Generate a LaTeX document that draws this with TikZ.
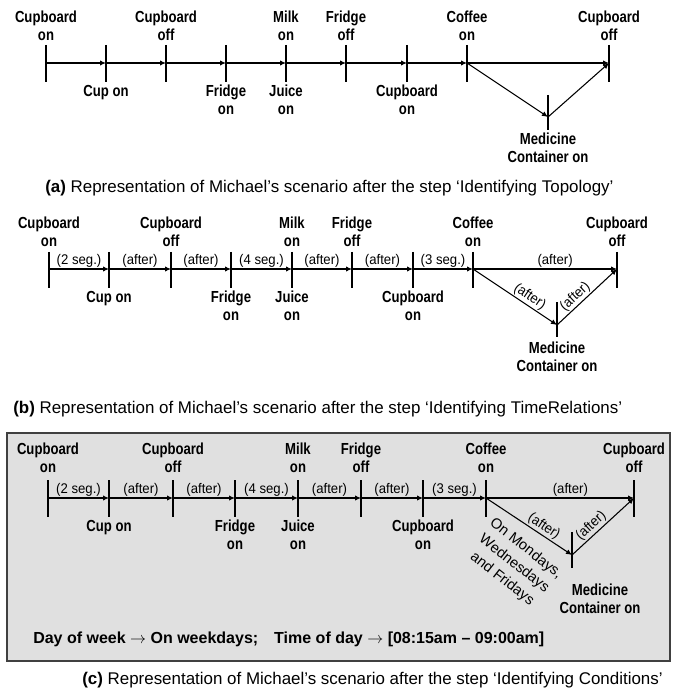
\documentclass[tikz,border=0pt]{standalone}
\usepackage{fontspec}
\setmainfont{Liberation Sans}
\newfontfamily\narrowfont{Liberation Sans}[FakeStretch=0.82]
\newfontfamily\slimfont{Liberation Sans}[FakeStretch=0.94]
\usetikzlibrary{arrows.meta,positioning}
\tikzstyle{flow} = [line width=0.8pt,-{Latex[length=4.5pt,width=4pt]}]
\tikzstyle{evtick} = [line width=1.3pt]
\tikzstyle{evlab} = [font=\narrowfont\bfseries\fontsize{12}{13.5}\selectfont, align=center, inner sep=1pt]
\tikzstyle{gaplab} = [font=\slimfont\fontsize{10.5}{12}\selectfont, inner sep=1pt]
\tikzstyle{capt} = [font=\fontsize{12.7}{14}\selectfont, anchor=base west, inner sep=0pt]
\tikzstyle{condbox} = [draw=black!75, line width=1pt, fill=black!12]

\begin{document}
\begin{tikzpicture}[x=0.75pt, y=-0.75pt, node distance=15.5pt]
            \useasboundingbox (0,0) rectangle (676,691);

            % (a) topology
            \coordinate (a1) at (46,63);
            \coordinate (a2) at (106,63);
            \coordinate (a3) at (166,63);
            \coordinate (a4) at (226,63);
            \coordinate (a5) at (286,63);
            \coordinate (a6) at (346,63);
            \coordinate (a7) at (407,63);
            \coordinate (a8) at (467,63);
            \coordinate (a9) at (609,63);
            \coordinate (am) at (548,117);

            \draw[evtick] (a1) ++(0,-18) -- ++(0,37);
            \draw[evtick] (a2) ++(0,-18) -- ++(0,37);
            \draw[evtick] (a3) ++(0,-18) -- ++(0,37);
            \draw[evtick] (a4) ++(0,-18) -- ++(0,37);
            \draw[evtick] (a5) ++(0,-18) -- ++(0,37);
            \draw[evtick] (a6) ++(0,-18) -- ++(0,37);
            \draw[evtick] (a7) ++(0,-18) -- ++(0,37);
            \draw[evtick] (a8) ++(0,-18) -- ++(0,37);
            \draw[evtick] (a9) ++(0,-18) -- ++(0,37);
            \draw[evtick] (am) ++(0,-22) -- ++(0,35);

            \draw[flow] (a1) -- (a2);
            \draw[flow] (a2) -- (a3);
            \draw[flow] (a3) -- (a4);
            \draw[flow] (a4) -- (a5);
            \draw[flow] (a5) -- (a6);
            \draw[flow] (a6) -- (a7);
            \draw[flow] (a7) -- (a8);
            \draw[flow] (a8) -- (a9);
            \draw[flow] (a8) -- (am);
            \draw[flow] (am) -- (a9);

            \node[evlab, above=of a1] (a1lab) {Cupboard\\on};
            \node[evlab, below=of a2] (a2lab) {Cup on};
            \node[evlab, above=of a3] (a3lab) {Cupboard\\off};
            \node[evlab, below=of a4] (a4lab) {Fridge\\on};
            \node[evlab, above=of a5] (a5lab) {Milk\\on};
            \node[evlab, below=of a5] (a5low) {Juice\\on};
            \node[evlab, above=of a6] (a6lab) {Fridge\\off};
            \node[evlab, below=of a7] (a7lab) {Cupboard\\on};
            \node[evlab, above=of a8] (a8lab) {Coffee\\on};
            \node[evlab, above=of a9] (a9lab) {Cupboard\\off};
            \node[evlab, below=11pt of am] (amlab) {Medicine\\Container on};

            \node[capt] (capa) at (45,193) {\textbf{(a)} Representation of Michael’s scenario after the step ‘Identifying Topology’};

            % (b) time relations
            \coordinate (b1) at (49,269);
            \coordinate (b2) at (109,269);
            \coordinate (b3) at (171,269);
            \coordinate (b4) at (231,269);
            \coordinate (b5) at (292,269);
            \coordinate (b6) at (352,269);
            \coordinate (b7) at (413,269);
            \coordinate (b8) at (473,269);
            \coordinate (b9) at (617,269);
            \coordinate (bm) at (557,325);

            \draw[evtick] (b1) ++(0,-17) -- ++(0,36);
            \draw[evtick] (b2) ++(0,-17) -- ++(0,36);
            \draw[evtick] (b3) ++(0,-17) -- ++(0,36);
            \draw[evtick] (b4) ++(0,-17) -- ++(0,36);
            \draw[evtick] (b5) ++(0,-17) -- ++(0,36);
            \draw[evtick] (b6) ++(0,-17) -- ++(0,36);
            \draw[evtick] (b7) ++(0,-17) -- ++(0,36);
            \draw[evtick] (b8) ++(0,-17) -- ++(0,36);
            \draw[evtick] (b9) ++(0,-17) -- ++(0,36);
            \draw[evtick] (bm) ++(0,-23) -- ++(0,35);

            \draw[flow] (b1) -- node[gaplab, above] {(2 seg.)} (b2);
            \draw[flow] (b2) -- node[gaplab, above] {(after)} (b3);
            \draw[flow] (b3) -- node[gaplab, above] {(after)} (b4);
            \draw[flow] (b4) -- node[gaplab, above] {(4 seg.)} (b5);
            \draw[flow] (b5) -- node[gaplab, above] {(after)} (b6);
            \draw[flow] (b6) -- node[gaplab, above] {(after)} (b7);
            \draw[flow] (b7) -- node[gaplab, above] {(3 seg.)} (b8);
            \draw[flow] (b8) -- node[gaplab, above, pos=0.57] {(after)} (b9);
            \draw[flow] (b8) -- node[gaplab, above, sloped, pos=0.62] {(after)} (bm);
            \draw[flow] (bm) -- node[gaplab, above, sloped, pos=0.4] {(after)} (b9);

            \node[evlab, above=of b1] (b1lab) {Cupboard\\on};
            \node[evlab, below=of b2] (b2lab) {Cup on};
            \node[evlab, above=of b3] (b3lab) {Cupboard\\off};
            \node[evlab, below=of b4] (b4lab) {Fridge\\on};
            \node[evlab, above=of b5] (b5lab) {Milk\\on};
            \node[evlab, below=of b5] (b5low) {Juice\\on};
            \node[evlab, above=of b6] (b6lab) {Fridge\\off};
            \node[evlab, below=of b7] (b7lab) {Cupboard\\on};
            \node[evlab, above=of b8] (b8lab) {Coffee\\on};
            \node[evlab, above=of b9] (b9lab) {Cupboard\\off};
            \node[evlab, below=11.5pt of bm] (bmlab) {Medicine\\Container on};

            \node[capt] (capb) at (13,413) {\textbf{(b)} Representation of Michael’s scenario after the step ‘Identifying TimeRelations’};

            % (c) conditions
            \draw[condbox] (7,433) rectangle (670,661);

            \coordinate (c1) at (48,498);
            \coordinate (c2) at (109,498);
            \coordinate (c3) at (173,498);
            \coordinate (c4) at (235,498);
            \coordinate (c5) at (298,498);
            \coordinate (c6) at (361,498);
            \coordinate (c7) at (423,498);
            \coordinate (c8) at (486,498);
            \coordinate (c9) at (634,498);
            \coordinate (cm) at (572,555);

            \draw[evtick] (c1) ++(0,-18) -- ++(0,37);
            \draw[evtick] (c2) ++(0,-18) -- ++(0,37);
            \draw[evtick] (c3) ++(0,-18) -- ++(0,37);
            \draw[evtick] (c4) ++(0,-18) -- ++(0,37);
            \draw[evtick] (c5) ++(0,-18) -- ++(0,37);
            \draw[evtick] (c6) ++(0,-18) -- ++(0,37);
            \draw[evtick] (c7) ++(0,-18) -- ++(0,37);
            \draw[evtick] (c8) ++(0,-18) -- ++(0,37);
            \draw[evtick] (c9) ++(0,-18) -- ++(0,37);
            \draw[evtick] (cm) ++(0,-23) -- ++(0,36);

            \draw[flow] (c1) -- node[gaplab, above] {(2 seg.)} (c2);
            \draw[flow] (c2) -- node[gaplab, above] {(after)} (c3);
            \draw[flow] (c3) -- node[gaplab, above] {(after)} (c4);
            \draw[flow] (c4) -- node[gaplab, above] {(4 seg.)} (c5);
            \draw[flow] (c5) -- node[gaplab, above] {(after)} (c6);
            \draw[flow] (c6) -- node[gaplab, above] {(after)} (c7);
            \draw[flow] (c7) -- node[gaplab, above] {(3 seg.)} (c8);
            \draw[flow] (c8) -- node[gaplab, above, pos=0.57] {(after)} (c9);
            \draw[flow] (c8) -- node[gaplab, above, sloped, pos=0.62] {(after)} (cm);
            \draw[flow] (cm) -- node[gaplab, above, sloped, pos=0.4] {(after)} (c9);

            \node[evlab, above=17.5pt of c1] (c1lab) {Cupboard\\on};
            \node[evlab, below=of c2] (c2lab) {Cup on};
            \node[evlab, above=17.5pt of c3] (c3lab) {Cupboard\\off};
            \node[evlab, below=of c4] (c4lab) {Fridge\\on};
            \node[evlab, above=17.5pt of c5] (c5lab) {Milk\\on};
            \node[evlab, below=of c5] (c5low) {Juice\\on};
            \node[evlab, above=17.5pt of c6] (c6lab) {Fridge\\off};
            \node[evlab, below=of c7] (c7lab) {Cupboard\\on};
            \node[evlab, above=17.5pt of c8] (c8lab) {Coffee\\on};
            \node[evlab, above=17.5pt of c9] (c9lab) {Cupboard\\off};
            \node[evlab, below=20.5pt of cm, xshift=21pt] (cmlab) {Medicine\\Container on};

            \node[font=\fontsize{11}{14.5}\selectfont, align=center, inner sep=0pt, rotate=-38] (days) at (514,564) {On Mondays,\\Wednesdays\\and Fridays};
            \node[font=\bfseries\fontsize{12}{14}\selectfont, anchor=base west, inner sep=0pt] (cond) at (33,643) {Day of week $\rightarrow$ On weekdays;\quad Time of day $\rightarrow$ [08:15am – 09:00am]};

            \node[capt] (capc) at (82,684) {\textbf{(c)} Representation of Michael’s scenario after the step ‘Identifying Conditions’};
        \end{tikzpicture}
\end{document}
